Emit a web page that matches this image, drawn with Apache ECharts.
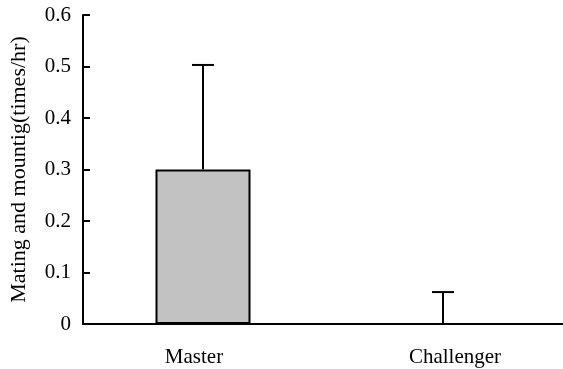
<!DOCTYPE html>
<html>
<head>
<meta charset="utf-8">
<script src="https://cdn.jsdelivr.net/npm/echarts@6/dist/echarts.min.js"></script>
<style>html,body{margin:0;padding:0;background:#fff}#c{width:563px;height:369px}</style>
</head>
<body>
<div id="c"></div>
<script>
const categories = ['Master', 'Challenger'];
const means = [0.30, 0.0];
const upperErrors = [0.503, 0.062];
const yTicks = [0, 0.1, 0.2, 0.3, 0.4, 0.5, 0.6];

const chart = echarts.init(document.getElementById('c'));
const font = 'Liberation Serif';
chart.setOption({
  animation: false,
  backgroundColor: '#fff',
  grid: { left: 82, right: 0, top: 15, bottom: 45 },
  xAxis: {
    type: 'category',
    data: [
      { value: categories[0], textStyle: { padding: [0, 18, 0, 0] } },
      { value: categories[1], textStyle: { padding: [0, 0, 0, 24] } }
    ],
    axisLine: { lineStyle: { color: '#000', width: 2 } },
    axisTick: { inside: true, length: 6, lineStyle: { color: '#000', width: 2 } },
    axisLabel: { color: '#000', fontFamily: font, fontSize: 21, margin: 23 }
  },
  yAxis: {
    type: 'value',
    min: yTicks[0], max: yTicks[yTicks.length - 1], interval: 0.1,
    name: 'Mating and mountig(times/hr)',
    nameLocation: 'middle',
    nameGap: 53,
    nameTextStyle: { color: '#000', fontFamily: font, fontSize: 22 },
    splitLine: { show: false },
    axisLine: { show: true, lineStyle: { color: '#000', width: 2 } },
    axisTick: { show: true, inside: true, length: 7, lineStyle: { color: '#000', width: 2 } },
    axisLabel: { color: '#000', fontFamily: font, fontSize: 21, margin: 12,
      formatter: v => (v === 0 ? '0' : v.toFixed(1)) }
  },
  series: [
    {
      type: 'bar',
      data: means,
      barWidth: 95,
      itemStyle: { color: '#c2c2c2', borderColor: '#000', borderWidth: 2 },
      z: 2
    },
    {
      type: 'custom',
      data: categories.map((c, i) => [i, means[i], upperErrors[i]]),
      z: 1,
      renderItem: function (params, api) {
        const base = api.coord([api.value(0), api.value(1)]);
        const top = api.coord([api.value(0), api.value(2)]);
        const half = 11;
        const style = { stroke: '#000', lineWidth: 2 };
        return {
          type: 'group',
          children: [
            { type: 'line', shape: { x1: base[0], y1: base[1], x2: top[0], y2: top[1] }, style },
            { type: 'line', shape: { x1: top[0] - half, y1: top[1], x2: top[0] + half, y2: top[1] }, style }
          ]
        };
      }
    }
  ]
});
</script>
</body>
</html>
